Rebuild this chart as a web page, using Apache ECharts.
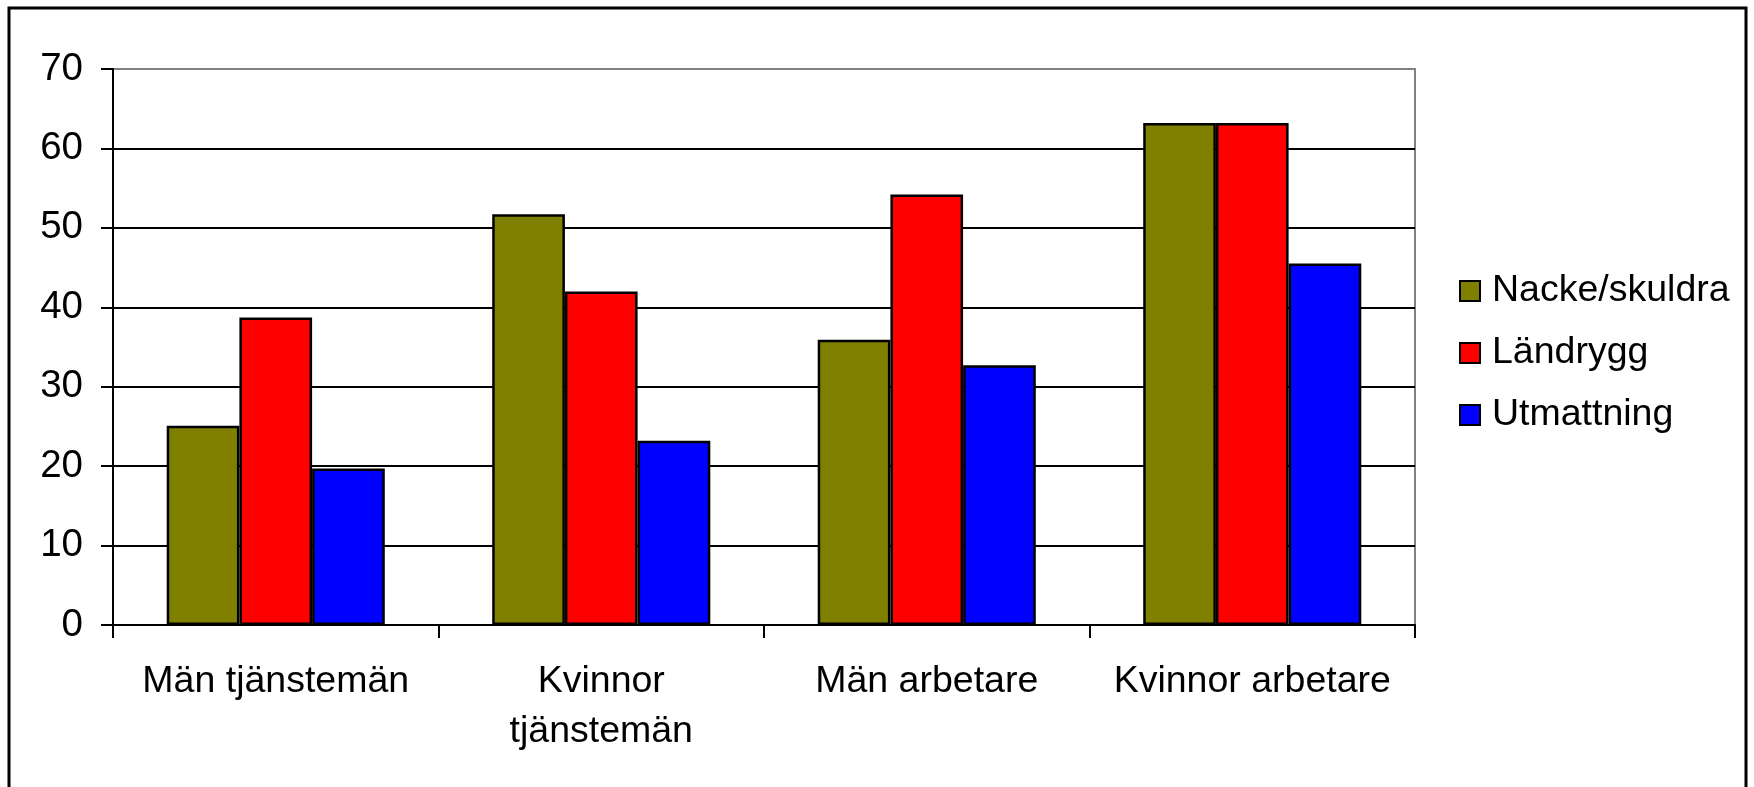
<!DOCTYPE html>
<html>
<head>
<meta charset="utf-8">
<script src="https://cdn.jsdelivr.net/npm/echarts@6/dist/echarts.min.js"></script>
<style>
html,body{margin:0;padding:0;background:#fff;}
#main{width:1754px;height:787px;}
</style>
</head>
<body>
<div id="main"></div>
<script>
var categories = ['Män tjänstemän', 'Kvinnor\ntjänstemän', 'Män arbetare', 'Kvinnor arbetare'];
var seriesNames = ['Nacke/skuldra', 'Ländrygg', 'Utmattning'];
var nackeSkuldra = [25.1, 51.7, 35.9, 63.2];
var landrygg = [38.7, 42.0, 54.2, 63.2];
var utmattning = [19.7, 23.2, 32.7, 45.5];
var yTicks = [0, 10, 20, 30, 40, 50, 60, 70];

var colors = ['#808000', '#FF0000', '#0000FF'];
var font = 'Liberation Sans, Arial, sans-serif';
var chart = echarts.init(document.getElementById('main'));
var values = [nackeSkuldra, landrygg, utmattning];

chart.setOption({
  animation: false,
  backgroundColor: '#fff',
  textStyle: { fontFamily: font },
  graphic: [{
    type: 'rect',
    shape: { x: 9, y: 8, width: 1737, height: 800 },
    style: { fill: 'none', stroke: '#000', lineWidth: 3 },
    silent: true
  }],
  grid: {
    left: 113, right: 339, top: 69, bottom: 162,
    show: true, borderColor: '#808080', borderWidth: 2, backgroundColor: 'transparent'
  },
  legend: {
    orient: 'vertical',
    left: 1459, top: 272, padding: 0,
    itemWidth: 20, itemHeight: 20, itemGap: 24,
    icon: 'rect',
    data: seriesNames,
    itemStyle: { borderColor: '#000', borderWidth: 2 },
    textStyle: { fontSize: 37.5, color: '#000', fontFamily: font, padding: [0, 0, 0, 7] }
  },
  xAxis: {
    type: 'category',
    data: categories,
    axisLine: { lineStyle: { color: '#000', width: 2 } },
    axisTick: { show: true, length: 13, lineStyle: { color: '#000', width: 2 } },
    axisLabel: { fontSize: 37.5, color: '#000', margin: 32, lineHeight: 50, interval: 0, fontFamily: font }
  },
  yAxis: {
    type: 'value',
    min: yTicks[0], max: yTicks[yTicks.length - 1], interval: 10,
    axisLine: { show: true, lineStyle: { color: '#000', width: 2 } },
    axisTick: { show: true, length: 12, lineStyle: { color: '#000', width: 2 } },
    axisLabel: { fontSize: 38.5, color: '#000', margin: 30, fontFamily: font },
    splitLine: { show: true, lineStyle: { color: ['#000', '#000', '#000', '#000', '#000', '#000', '#000', '#808080'], width: 2 } }
  },
  series: seriesNames.map(function (name, i) {
    return {
      name: name,
      type: 'bar',
      data: values[i],
      barGap: '0%',
      barCategoryGap: '33%',
      itemStyle: { color: colors[i], borderColor: '#000', borderWidth: 2.5 }
    };
  })
});
</script>
</body>
</html>
